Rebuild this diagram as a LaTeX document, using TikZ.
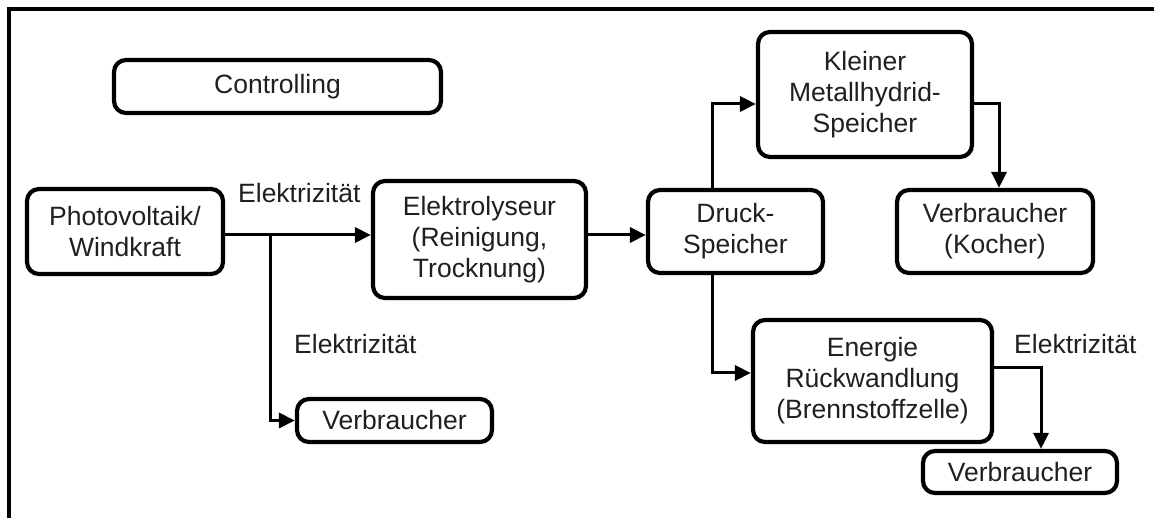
\documentclass[tikz,border=0pt]{standalone}
\usepackage{fontspec}
\setmainfont{Liberation Sans}
\usetikzlibrary{arrows.meta}
\begin{document}
\begin{tikzpicture}[x=1pt,y=-1pt,
  font=\fontsize{26.5}{31}\selectfont,
  box/.style={draw, line width=4.2pt, rounded corners=12pt, align=center,
    inner sep=0pt, text=black!88},
  flow/.style={line width=3pt, -{Triangle[length=16pt,width=15pt]}},
  lbl/.style={anchor=base west, inner sep=0pt, text=black!88}]
\useasboundingbox (0,0) rectangle (1154,518);

% outer frame (top and left edge)
\draw[line width=4pt] (9,518) -- (9,9) -- (1154,9);

% boxes
\node[box, minimum width=327pt, minimum height=53pt] (ctrl) at (277.5,86.5) {Controlling};
\node[box, minimum width=196pt, minimum height=85pt] (pv) at (125,231.5) {Photovoltaik/\\Windkraft};
\node[box, minimum width=213pt, minimum height=117pt] (ely) at (479.5,239.5) {Elektrolyseur\\(Reinigung,\\Trocknung)};
\node[box, minimum width=175pt, minimum height=83pt] (druck) at (735.5,231.5) {Druck-\\Speicher};
\node[box, minimum width=214pt, minimum height=125pt] (klein) at (865,94.5) {Kleiner\\Metallhydrid-\\Speicher};
\node[box, minimum width=196pt, minimum height=83pt] (kocher) at (995,231.5) {Verbraucher\\(Kocher)};
\node[box, minimum width=239pt, minimum height=122pt] (energie) at (872.5,381) {Energie\\Rückwandlung\\(Brennstoffzelle)};
\node[box, minimum width=195pt, minimum height=43pt] (vA) at (394.5,420.5) {Verbraucher};
\node[box, minimum width=194pt, minimum height=42pt] (vB) at (1020,472) {Verbraucher};

% routing points
\coordinate (j1) at (270,235);
\coordinate (k1) at (712,104);
\coordinate (k2) at (999,104);
\coordinate (e1) at (712,373);
\coordinate (e2) at (1041,368);

% connectors
\draw[flow] (pv.east |- j1) -- (ely.west |- j1);
\draw[flow] (j1) |- (vA.west);
\draw[flow] (ely.east |- j1) -- (druck.west |- j1);
\draw[flow] (druck.north -| k1) |- (klein.west |- k1);
\draw[flow] (klein.east |- k2) -| (kocher.north -| k2);
\draw[flow] (druck.south -| e1) |- (energie.west |- e1);
\draw[flow] (energie.east |- e2) -| (vB.north -| e2);

% connector labels
\node[lbl] (l1) at (238,203) {Elektrizität};
\node[lbl] (l2) at (294,354) {Elektrizität};
\node[lbl] (l3) at (1014,354) {Elektrizität};
\end{tikzpicture}
\end{document}
